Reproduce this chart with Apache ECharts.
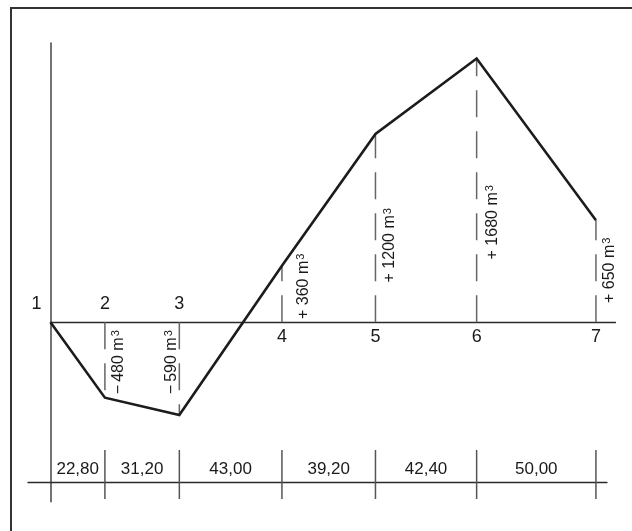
<!DOCTYPE html>
<html><head><meta charset="utf-8">
<script src="https://cdn.jsdelivr.net/npm/echarts@6/dist/echarts.min.js"></script>
<style>html,body{margin:0;padding:0;background:#fff}#c{width:632px;height:531px}</style>
</head><body><div id="c"></div>
<script>
// ---- data ----
const pointNames = ['1', '2', '3', '4', '5', '6', '7'];
const segmentLengths = [22.80, 31.20, 43.00, 39.20, 42.40, 50.00];
const segmentLabels = ['22,80', '31,20', '43,00', '39,20', '42,40', '50,00'];
const massValues = [0, -480, -590, 360, 1200, 1680, 650];
const volumeLabels = ['', '\u2212\u2009480', '\u2212\u2009590', '+ 360', '+ 1200', '+ 1680', '+ 650'];
const volumeUnit = 'm';
const volumeUnitExp = '3';

const stations = [0];
segmentLengths.forEach(d => stations.push(+(stations[stations.length - 1] + d).toFixed(2)));

const FONT = '"Liberation Sans", Arial, Helvetica, sans-serif';
const INK = '#1a1a1a';

// annotation layout (pixel offsets from station / zero line)
const volDx = [0, 14, -8, 22, 14.5, 16, 14];
const volDy = [0, 40, 40, -36, -77, -100, -52];
const nameDx = [-14, 0, 0, 0, 0, 0, 0];

const chart = echarts.init(document.getElementById('c'), null, {renderer: 'canvas'});

const option = {
  animation: false,
  backgroundColor: '#fff',
  graphic: [{
    type: 'polyline',
    shape: {points: [[11, 531], [11, 8], [632, 8]]},
    style: {stroke: '#333', lineWidth: 2, fill: null}
  }],
  grid: [
    {left: 50.5, top: 43, width: 565, height: 458.7},
    {left: 28, top: 450, width: 579, height: 49}
  ],
  xAxis: [
    {type: 'value', gridIndex: 0, min: 0, max: 236.8,
     axisLine: {show: true, onZero: true, lineStyle: {color: '#2a2a2a', width: 1.3}},
     axisTick: {show: false}, axisLabel: {show: false}, splitLine: {show: false}},
    {type: 'value', gridIndex: 1, min: -9.43, max: 233.24,
     axisLine: {show: true, onZero: true, lineStyle: {color: '#2a2a2a', width: 1.3}},
     axisTick: {show: false}, axisLabel: {show: false}, splitLine: {show: false}}
  ],
  yAxis: [
    {type: 'value', gridIndex: 0, min: -1142.7, max: 1779,
     axisLine: {show: true, onZero: false, lineStyle: {color: '#444', width: 1.5}},
     axisTick: {show: false}, axisLabel: {show: false}, splitLine: {show: false}},
    {type: 'value', gridIndex: 1, min: -16.7, max: 32.3, show: false,
     splitLine: {show: false}}
  ],
  series: [
    {
      type: 'line', xAxisIndex: 0, yAxisIndex: 0, z: 5,
      data: stations.map((s, i) => [s, massValues[i]]),
      showSymbol: false, symbol: 'none',
      lineStyle: {color: '#1c1c1c', width: 2.6, join: 'miter'}
    },
    {
      type: 'custom', xAxisIndex: 0, yAxisIndex: 0, z: 4,
      data: stations.map((s, i) => [s, massValues[i], i]),
      encode: {x: 0, y: 1},
      renderItem(params, api) {
        const i = api.value(2);
        const p = api.coord([api.value(0), api.value(1)]);
        const z = api.coord([api.value(0), 0]);
        const children = [];
        if (massValues[i] !== 0) {
          children.push({type: 'line', shape: {x1: z[0], y1: z[1], x2: p[0], y2: p[1]},
            style: {stroke: '#666', lineWidth: 1.5, lineDash: [27, 14]}});
          children.push({type: 'text', x: z[0] + volDx[i], y: z[1] + volDy[i], rotation: Math.PI / 2,
            style: {
              text: '{n|' + volumeLabels[i] + ' ' + volumeUnit + '}{s|' + volumeUnitExp + '}',
              align: 'center', verticalAlign: 'middle',
              rich: {
                n: {fontSize: 16, fontFamily: FONT, fill: INK, lineHeight: 16, verticalAlign: 'bottom'},
                s: {fontSize: 11, fontFamily: FONT, fill: INK, lineHeight: 16, verticalAlign: 'top', padding: [0, 0, 0, 1]}
              }
            }});
        }
        const above = massValues[i] <= 0;
        children.push({type: 'text', x: z[0] + nameDx[i], y: z[1] + (above ? -18 : 15),
          style: {text: pointNames[i], fill: INK, font: '18px ' + FONT, align: 'center', verticalAlign: 'middle'}});
        return {type: 'group', children};
      }
    },
    {
      type: 'custom', xAxisIndex: 1, yAxisIndex: 1, z: 4,
      data: stations.map((s, i) => [s, 0, i]),
      encode: {x: 0, y: 1},
      renderItem(params, api) {
        const i = api.value(2);
        const cs = params.coordSys;
        const pt = api.coord([api.value(0), 0]);
        const children = [];
        if (i > 0) {
          children.push({type: 'line', shape: {x1: pt[0], y1: cs.y, x2: pt[0], y2: cs.y + cs.height},
            style: {stroke: '#555', lineWidth: 1.5}});
          const prev = api.coord([stations[i - 1], 0]);
          children.push({type: 'text', x: (pt[0] + prev[0]) / 2, y: pt[1] - 13,
            style: {text: segmentLabels[i - 1], fill: INK, font: '17px ' + FONT, align: 'center', verticalAlign: 'middle'}});
        }
        return {type: 'group', children};
      }
    }
  ]
};
chart.setOption(option);
</script>
</body></html>
